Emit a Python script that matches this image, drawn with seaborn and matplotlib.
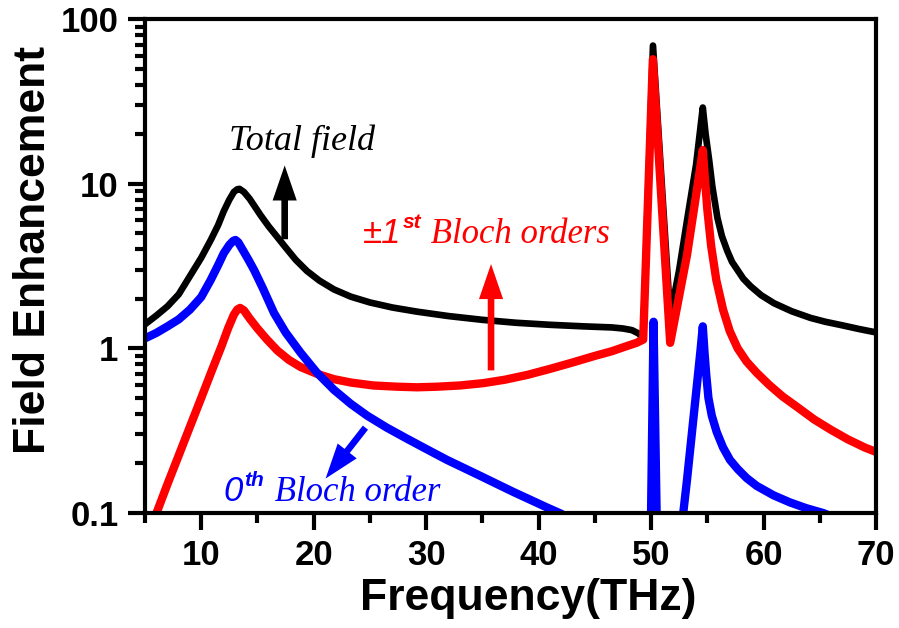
import numpy as np
import pandas as pd
import seaborn as sns
import matplotlib.pyplot as plt
from matplotlib.ticker import MultipleLocator, LogLocator, NullFormatter

# values (frequency in THz, field enhancement)
total_freq = [5.0, 6.0, 7.0, 8.0, 9.0, 10.0, 10.84, 11.5, 12.0, 12.5, 12.9, 13.2,
              13.4, 13.8, 14.3, 14.8, 15.3, 16.0, 16.7, 17.5, 18.4, 19.4, 20.5, 21.8,
              23.3, 25.0, 27.0, 29.2, 32.0, 35.0, 38.0, 41.0, 44.0, 46.5, 47.5, 48.3,
              48.9, 49.3, 50.17, 51.7, 52.5, 53.2, 54.0, 54.6, 54.85, 55.16, 55.45, 55.9,
              56.3, 56.78, 57.2, 57.67, 58.2, 58.86, 59.8, 60.93, 62.5, 64.19, 65.5, 67.0,
              68.5, 70.0]
total_enh = [1.40, 1.58, 1.80, 2.13, 2.75, 3.55, 4.54, 5.6, 6.8, 8.0, 8.9, 9.25,
             9.3, 8.9, 8.1, 7.2, 6.4, 5.5, 4.8, 4.1, 3.45, 2.95, 2.58, 2.28,
             2.06, 1.90, 1.77, 1.67, 1.57, 1.49, 1.43, 1.39, 1.36, 1.34, 1.32, 1.29,
             1.23, 1.15, 69.0, 1.56, 3.0, 6.0, 13.0, 29.0, 20.0, 14.0, 9.6, 6.2,
             4.8, 3.9, 3.35, 3.0, 2.65, 2.38, 2.1, 1.88, 1.68, 1.53, 1.45, 1.38,
             1.31, 1.25]

first_freq = [5.9, 7.0, 8.0, 9.0, 10.0, 11.0, 11.8, 12.4, 12.9, 13.2, 13.45, 13.8,
              14.3, 15.0, 15.8, 16.77, 17.8, 18.84, 20.3, 21.8, 23.3, 25.3, 27.4, 29.2,
              31.0, 33.0, 35.1, 37.0, 39.0, 41.0, 43.0, 45.0, 46.5, 47.8, 48.7, 49.3,
              50.16, 51.7, 53.2, 54.0, 54.6, 54.8, 55.0, 55.34, 55.8, 56.4, 57.0, 57.7,
              58.5, 59.4, 60.5, 61.7, 63.0, 64.5, 66.0, 67.5, 69.0, 70.0]
first_enh = [0.095, 0.15, 0.224, 0.335, 0.50, 0.75, 1.03, 1.33, 1.6, 1.72, 1.76, 1.70,
             1.52, 1.32, 1.14, 0.97, 0.85, 0.77, 0.70, 0.65, 0.62, 0.595, 0.585, 0.58,
             0.585, 0.595, 0.615, 0.645, 0.69, 0.75, 0.82, 0.90, 0.96, 1.03, 1.08, 1.13,
             57.0, 1.08, 3.7, 8.5, 16.0, 10.5, 7.0, 4.2, 2.6, 1.72, 1.27, 1.0,
             0.83, 0.71, 0.60, 0.51, 0.44, 0.37, 0.32, 0.28, 0.25, 0.235]

zeroth_freq = [5.0, 6.0, 7.0, 8.0, 9.0, 10.0, 10.84, 11.5, 12.0, 12.5, 12.85, 13.05,
               13.3, 13.7, 14.2, 14.7, 15.5, 16.47, 17.5, 18.84, 20.3, 21.8, 23.3, 24.76,
               26.5, 28.2, 30.0, 31.86, 33.4, 34.82, 36.3, 37.78, 39.3, 40.75, 42.0, 43.0,
               44.0, 49.97, 50.22, 50.53, 52.7, 53.2, 53.7, 54.1, 54.4, 54.6, 54.75, 54.9,
               55.1, 55.4, 55.84, 56.4, 57.02, 57.7, 58.5, 59.4, 60.9, 62.35, 63.8, 65.3,
               67.0]
zeroth_enh = [1.15, 1.24, 1.36, 1.50, 1.72, 2.05, 2.6, 3.2, 3.78, 4.25, 4.5, 4.55,
              4.4, 3.95, 3.45, 2.99, 2.3, 1.64, 1.25, 0.94, 0.71, 0.56, 0.46, 0.39,
              0.33, 0.285, 0.245, 0.21, 0.187, 0.168, 0.15, 0.134, 0.12, 0.108, 0.099, 0.09,
              0.06, 0.07, 1.45, 0.07, 0.08, 0.16, 0.34, 0.62, 0.98, 1.36, 0.95, 0.70,
              0.50, 0.39, 0.31, 0.25, 0.21, 0.185, 0.163, 0.146, 0.128, 0.116, 0.107, 0.1,
              0.09]

sns.set_style("ticks")
plt.rcParams['font.family'] = ['Liberation Sans', 'DejaVu Sans']
plt.rcParams['text.color'] = 'black'
plt.rcParams['xtick.color'] = 'black'
plt.rcParams['ytick.color'] = 'black'
plt.rcParams['axes.labelcolor'] = 'black'

fig = plt.figure(figsize=(8.99, 6.28), dpi=100)
ax = fig.add_axes([0.1613, 0.1831, 0.8131, 0.7866])

curves = [
    (total_freq, total_enh, 'black', 4.8),
    (first_freq, first_enh, '#ff0000', 6.0),
    (zeroth_freq, zeroth_enh, '#0000ff', 6.0),
]
for fx, fy, col, lw in curves:
    df = pd.DataFrame({'freq': fx, 'enh': fy})
    sns.lineplot(data=df, x='freq', y='enh', color=col, lw=lw, ax=ax,
                 sort=False, estimator=None,
                 solid_joinstyle='round', solid_capstyle='round')

ax.set_yscale('log')
ax.set_xlim(5, 70)
ax.set_ylim(0.1, 100)
ax.set_yticks([0.1, 1, 10, 100])
ax.set_yticklabels(['0.1', '1', '10', '100'])
ax.yaxis.set_minor_locator(LogLocator(base=10, subs=np.arange(2, 10)))
ax.yaxis.set_minor_formatter(NullFormatter())
ax.set_xticks(range(10, 71, 10))
ax.xaxis.set_minor_locator(MultipleLocator(5))

ax.tick_params(which='both', direction='out', width=3, color='black',
               top=False, right=False)
ax.tick_params(which='major', length=12, labelsize=25, pad=7)
ax.tick_params(which='minor', length=7)
for lab in ax.get_xticklabels() + ax.get_yticklabels():
    lab.set_fontweight('bold')
for s in ax.spines.values():
    s.set_linewidth(3)
    s.set_color('black')

ax.set_xlabel('')
ax.set_ylabel('')
fig.text(528 / 899, 18 / 628, 'Frequency(THz)', fontsize=32, fontweight='bold',
         ha='center', va='baseline')
fig.text(45 / 899, 378 / 628, 'Field Enhancement', fontsize=32, fontweight='bold',
         rotation=90, ha='center', va='baseline', rotation_mode='anchor')

# arrows
arrow = 'Simple,head_length=0.9,head_width=0.62,tail_width=0.17'
def add_arrow(tip, tail, col):
    ax.annotate('', xy=tip, xytext=tail,
                arrowprops=dict(arrowstyle=arrow, color=col, lw=0,
                                mutation_scale=28, shrinkA=0, shrinkB=0))

add_arrow((17.42, 12.9), (17.42, 4.6), 'black')
add_arrow((35.77, 3.25), (35.77, 0.735), '#ff0000')
add_arrow((21.06, 0.162), (24.6, 0.33), '#0000ff')

# annotations
ax.text(12.44, 16.1, 'Total field', fontfamily='Liberation Serif', style='italic',
        fontsize=26, color='black', va='baseline')

def bloch_label(x, y, num, sup, rest, col):
    t1 = ax.text(x, y, num, fontfamily='Liberation Sans', style='italic',
                 fontsize=25, color=col, va='baseline')
    t2 = ax.annotate(sup, xy=(1, y), xycoords=(t1, 'data'), xytext=(1, 11),
                     textcoords='offset points', fontfamily='Liberation Sans',
                     style='italic', fontweight='bold', fontsize=15, color=col,
                     va='baseline')
    ax.annotate(rest, xy=(1, y), xycoords=(t2, 'data'), xytext=(1, 0),
                textcoords='offset points', fontfamily='Liberation Serif',
                style='italic', fontsize=25, color=col, va='baseline')

bloch_label(24.34, 4.35, '\u00b11', 'st', ' Bloch orders', '#ff0000')
bloch_label(12.0, 0.118, '0', 'th', ' Bloch order', '#0000ff')

fig.savefig('out.png', dpi=100)
